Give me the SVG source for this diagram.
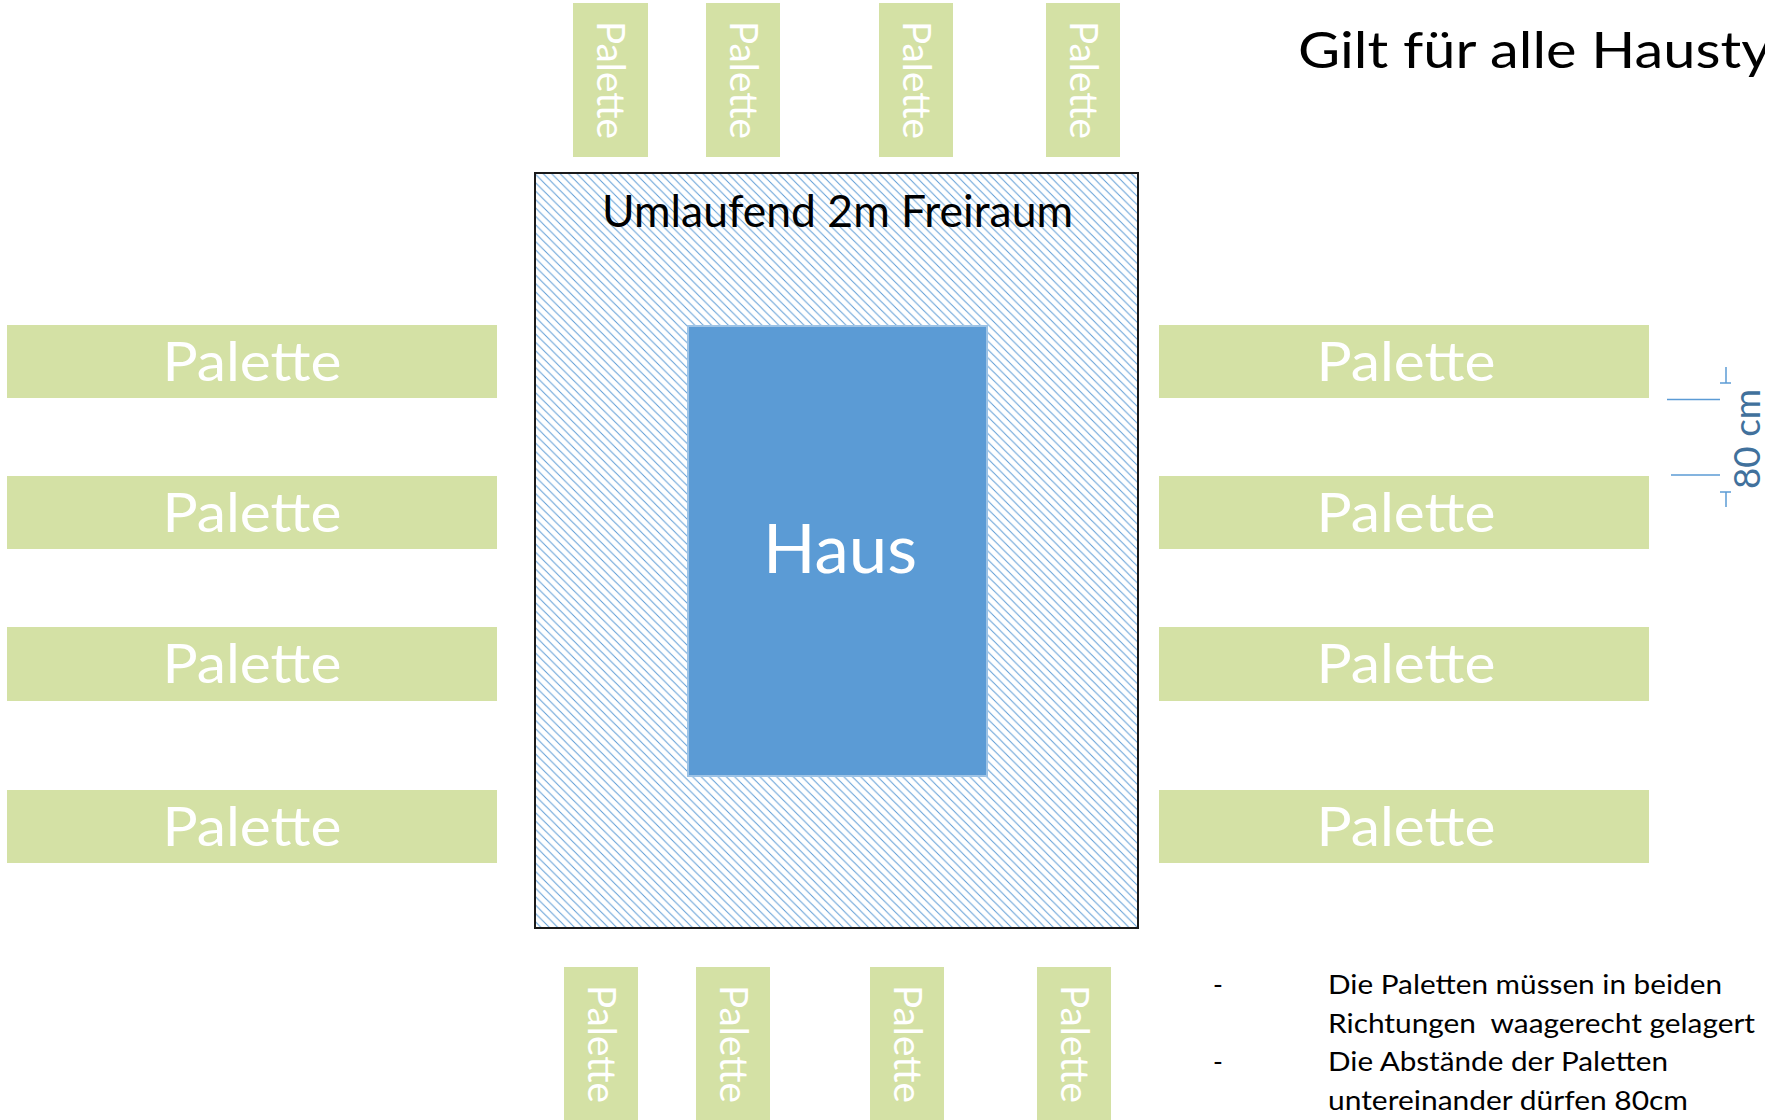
<svg xmlns="http://www.w3.org/2000/svg" width="1765" height="1120" viewBox="0 0 1765 1120">
  <defs>
    <pattern id="hatch" patternUnits="userSpaceOnUse" width="8.4" height="8.4">
      <rect width="8.4" height="8.4" fill="#ffffff"/>
      <path d="M-2,-2 L10.4,10.4 M-2,6.4 L2,10.4 M6.4,-2 L10.4,2" stroke="#5B9BD5" stroke-width="0.95"/>
    </pattern>
    <style>
      .pal { fill: #D4E1A5; }
      .pt { font-family: Lato, "Liberation Sans", sans-serif; fill: #ffffff; text-anchor: middle; }
      .ph { font-size: 54px; }
      .pv { font-size: 38px; }
      .txt { font-family: Lato, "Liberation Sans", sans-serif; fill: #000000; }
      .dim { stroke: #5B9BD5; stroke-width: 1.5; fill: none; }
    </style>
  </defs>
  <rect width="1765" height="1120" fill="#ffffff"/>

  <!-- Freiraum zone -->
  <g id="freiraum">
    <rect x="535" y="173" width="603" height="755" fill="url(#hatch)" stroke="#1a1a1a" stroke-width="2"/>
    <text class="txt" x="837.5" y="227" font-size="45" text-anchor="middle" textLength="471" lengthAdjust="spacingAndGlyphs">Umlaufend 2m Freiraum</text>
  </g>

  <!-- Haus -->
  <g id="haus">
    <rect x="688" y="326" width="299" height="450" fill="#5B9BD5" stroke="#9DC3E6" stroke-width="2"/>
    <text class="pt" x="840" y="573" font-size="67" textLength="154" lengthAdjust="spacingAndGlyphs">Haus</text>
  </g>

  <!-- Left palettes -->
  <g id="palette-left-1"><rect class="pal" x="7" y="325" width="490" height="73"/><text class="pt ph" x="252" y="381" textLength="179" lengthAdjust="spacingAndGlyphs">Palette</text></g>
  <g id="palette-left-2"><rect class="pal" x="7" y="476" width="490" height="73"/><text class="pt ph" x="252" y="532" textLength="179" lengthAdjust="spacingAndGlyphs">Palette</text></g>
  <g id="palette-left-3"><rect class="pal" x="7" y="627" width="490" height="74"/><text class="pt ph" x="252" y="683" textLength="179" lengthAdjust="spacingAndGlyphs">Palette</text></g>
  <g id="palette-left-4"><rect class="pal" x="7" y="790" width="490" height="73"/><text class="pt ph" x="252" y="846" textLength="179" lengthAdjust="spacingAndGlyphs">Palette</text></g>

  <!-- Right palettes -->
  <g id="palette-right-1"><rect class="pal" x="1159" y="325" width="490" height="73"/><text class="pt ph" x="1406" y="381" textLength="179" lengthAdjust="spacingAndGlyphs">Palette</text></g>
  <g id="palette-right-2"><rect class="pal" x="1159" y="476" width="490" height="73"/><text class="pt ph" x="1406" y="532" textLength="179" lengthAdjust="spacingAndGlyphs">Palette</text></g>
  <g id="palette-right-3"><rect class="pal" x="1159" y="627" width="490" height="74"/><text class="pt ph" x="1406" y="683" textLength="179" lengthAdjust="spacingAndGlyphs">Palette</text></g>
  <g id="palette-right-4"><rect class="pal" x="1159" y="790" width="490" height="73"/><text class="pt ph" x="1406" y="846" textLength="179" lengthAdjust="spacingAndGlyphs">Palette</text></g>

  <!-- Top palettes -->
  <g id="palette-top-1"><rect class="pal" x="573" y="3" width="75" height="154"/><text class="pt pv" transform="translate(597,80) rotate(90)" textLength="118" lengthAdjust="spacingAndGlyphs">Palette</text></g>
  <g id="palette-top-2"><rect class="pal" x="706" y="3" width="74" height="154"/><text class="pt pv" transform="translate(729.5,80) rotate(90)" textLength="118" lengthAdjust="spacingAndGlyphs">Palette</text></g>
  <g id="palette-top-3"><rect class="pal" x="879" y="3" width="74" height="154"/><text class="pt pv" transform="translate(902.5,80) rotate(90)" textLength="118" lengthAdjust="spacingAndGlyphs">Palette</text></g>
  <g id="palette-top-4"><rect class="pal" x="1046" y="3" width="74" height="154"/><text class="pt pv" transform="translate(1069.5,80) rotate(90)" textLength="118" lengthAdjust="spacingAndGlyphs">Palette</text></g>

  <!-- Bottom palettes -->
  <g id="palette-bottom-1"><rect class="pal" x="564" y="967" width="74" height="156"/><text class="pt pv" transform="translate(587.5,1044) rotate(90)" textLength="118" lengthAdjust="spacingAndGlyphs">Palette</text></g>
  <g id="palette-bottom-2"><rect class="pal" x="696" y="967" width="74" height="156"/><text class="pt pv" transform="translate(719.5,1044) rotate(90)" textLength="118" lengthAdjust="spacingAndGlyphs">Palette</text></g>
  <g id="palette-bottom-3"><rect class="pal" x="870" y="967" width="74" height="156"/><text class="pt pv" transform="translate(893.5,1044) rotate(90)" textLength="118" lengthAdjust="spacingAndGlyphs">Palette</text></g>
  <g id="palette-bottom-4"><rect class="pal" x="1037" y="967" width="74" height="156"/><text class="pt pv" transform="translate(1060.5,1044) rotate(90)" textLength="118" lengthAdjust="spacingAndGlyphs">Palette</text></g>

  <!-- Connectors / dimension -->
  <g id="connectors">
    <line class="dim" x1="1667" y1="399.5" x2="1720" y2="399.5"/>
    <line class="dim" x1="1671" y1="475" x2="1720" y2="475"/>
    <line class="dim" x1="1726" y1="367" x2="1726" y2="383"/>
    <line class="dim" x1="1720" y1="383" x2="1731" y2="383" stroke-width="2.5"/>
    <line class="dim" x1="1720" y1="492" x2="1731" y2="492" stroke-width="2.5"/>
    <line class="dim" x1="1726" y1="492" x2="1726" y2="507"/>
    <text transform="translate(1760,439) rotate(-90)" font-family="Lato, 'Liberation Sans', sans-serif" font-size="37" fill="#41719C" text-anchor="middle" textLength="100" lengthAdjust="spacingAndGlyphs">80 cm</text>
  </g>

  <!-- Title -->
  <g id="title">
    <text class="txt" x="1298" y="68" font-size="51" textLength="473" lengthAdjust="spacingAndGlyphs">Gilt für alle Hausty</text>
  </g>

  <!-- Notes -->
  <g id="notes" class="txt" font-size="26.5">
    <text x="1213" y="994">-</text>
    <text x="1328" y="994" textLength="394" lengthAdjust="spacingAndGlyphs">Die Paletten müssen in beiden</text>
    <text x="1328" y="1032.5" textLength="427" lengthAdjust="spacingAndGlyphs" xml:space="preserve">Richtungen  waagerecht gelagert</text>
    <text x="1213" y="1071">-</text>
    <text x="1328" y="1071" textLength="340" lengthAdjust="spacingAndGlyphs">Die Abstände der Paletten</text>
    <text x="1328" y="1109.5" textLength="360" lengthAdjust="spacingAndGlyphs">untereinander dürfen 80cm</text>
  </g>
</svg>
